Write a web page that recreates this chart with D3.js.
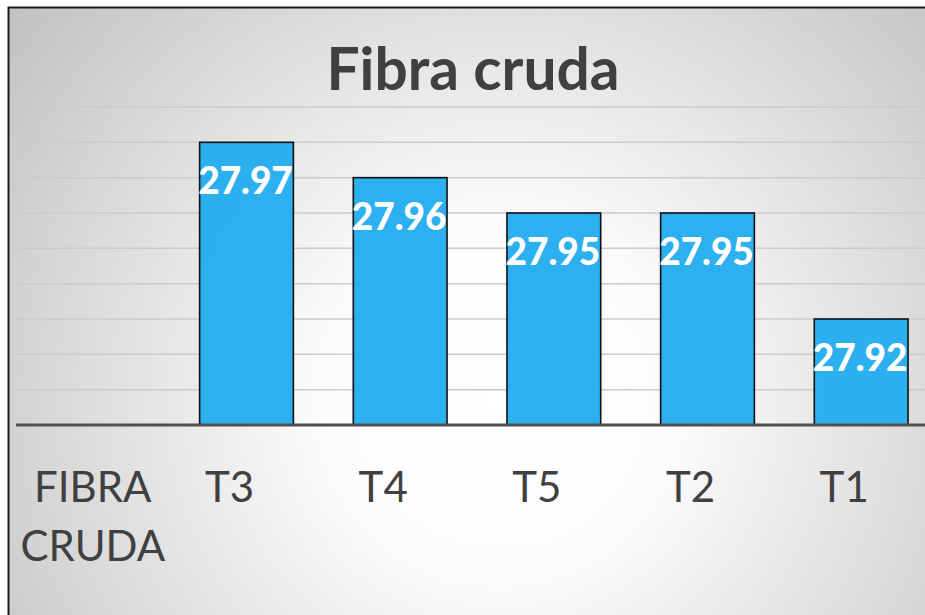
<!DOCTYPE html>
<html><head><meta charset="utf-8">
<script src="https://cdn.jsdelivr.net/npm/d3@7"></script>
<style>html,body{margin:0;padding:0;background:#fff;}svg{display:block;}</style>
</head><body>
<script>
const titleText = "Fibra cruda";
const categories = ["FIBRA CRUDA", "T3", "T4", "T5", "T2", "T1"];
const values = [null, 27.97, 27.96, 27.95, 27.95, 27.92];
const gridTicks = [27.90, 27.91, 27.92, 27.93, 27.94, 27.95, 27.96, 27.97, 27.98];
const yMin = 27.89, yMax = 27.98;

const W = 925, H = 615;
const svg = d3.select("body").append("svg").attr("width", W).attr("height", H);
const defs = svg.append("defs");
const grad = defs.append("radialGradient").attr("id", "bg")
  .attr("gradientUnits", "userSpaceOnUse")
  .attr("cx", 500).attr("cy", 400).attr("r", 620);
grad.append("stop").attr("offset", 0).attr("stop-color", "#ffffff");
grad.append("stop").attr("offset", 0.28).attr("stop-color", "#fcfcfc");
grad.append("stop").attr("offset", 1).attr("stop-color", "#c2c2c2");

// chart area with border
svg.append("rect").attr("x", 8.5).attr("y", 7.5).attr("width", W + 20).attr("height", H + 20)
  .attr("fill", "url(#bg)").attr("stroke", "#1a1a1a").attr("stroke-width", 2);

const plot = {left: 16, right: 938, top: 107, bottom: 425};
const x = d3.scaleBand().domain(categories).range([plot.left, plot.right]).paddingInner(0.39).paddingOuter(0.195);
const xc = d3.scaleBand().domain(categories).range([plot.left, plot.right]);
const y = d3.scaleLinear().domain([yMin, yMax]).range([plot.bottom, plot.top]);

// gridlines
svg.append("g").selectAll("line").data(gridTicks).join("line")
  .attr("x1", plot.left).attr("x2", plot.right)
  .attr("y1", d => y(d)).attr("y2", d => y(d))
  .attr("stroke", "#cbcbcb").attr("stroke-width", 1.5);

// bars
const data = categories.map((c, i) => ({c, v: values[i]})).filter(d => d.v != null);
svg.append("g").selectAll("rect").data(data).join("rect")
  .attr("x", d => x(d.c)).attr("width", x.bandwidth())
  .attr("y", d => y(d.v)).attr("height", d => y(yMin) - y(d.v))
  .attr("fill", "#24adee").attr("fill-opacity", 0.96)
  .attr("stroke", "#111").attr("stroke-width", 1.6);

// axis line
svg.append("line").attr("x1", plot.left).attr("x2", plot.right)
  .attr("y1", y(yMin)).attr("y2", y(yMin))
  .attr("stroke", "#505050").attr("stroke-width", 3);

// data labels
svg.append("g").selectAll("text").data(data).join("text")
  .attr("x", d => x(d.c) + x.bandwidth() / 2 - 1)
  .attr("y", d => y(d.v) + 52)
  .attr("text-anchor", "middle")
  .attr("font-family", "Lato, 'Open Sans', sans-serif")
  .attr("font-weight", 900).attr("font-size", 37)
  .attr("fill", "#ffffff")
  .text(d => d.v.toFixed(2));

// category labels
const cl = svg.append("g").attr("font-family", "Lato, 'Open Sans', sans-serif")
  .attr("font-size", 42).attr("fill", "#404040");
categories.forEach(c => {
  const words = c.split(" ");
  const cx = xc(c) + xc.bandwidth() / 2 + (words.length > 1 ? 0 : -17);
  const t = cl.append("text").attr("text-anchor", "middle").attr("x", cx).attr("y", 502);
  words.forEach((w, i) => t.append("tspan").attr("x", cx).attr("dy", i === 0 ? 0 : 59).text(w));
});

// title
svg.append("text").attr("x", 473).attr("y", 90).attr("text-anchor", "middle")
  .attr("font-family", "Lato, 'Open Sans', sans-serif").attr("font-weight", "bold")
  .attr("font-size", 60).attr("fill", "#404040")
  .attr("textLength", 293).attr("lengthAdjust", "spacingAndGlyphs")
  .text(titleText);
</script>
</body></html>
